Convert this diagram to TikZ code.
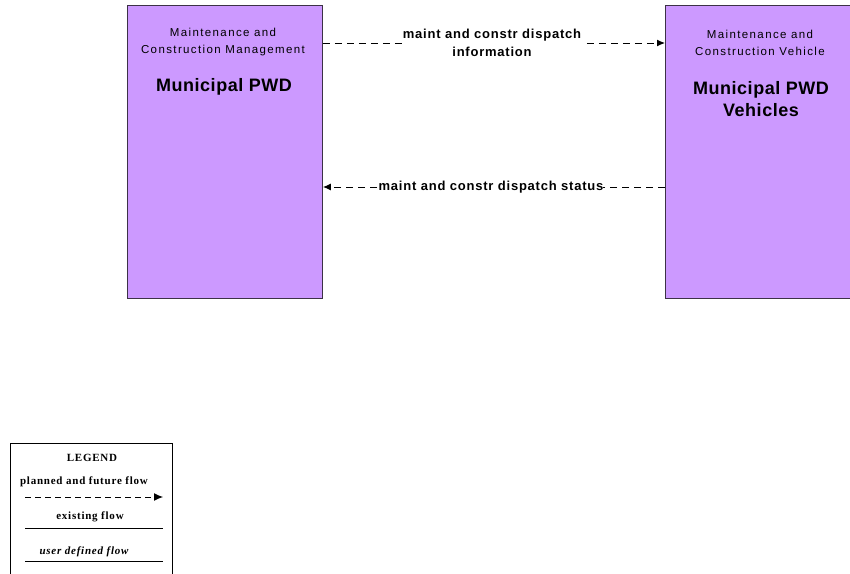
\documentclass[tikz,border=0pt]{standalone}
\usepackage{fontspec}
\setmainfont{Liberation Sans}
\newfontfamily\legfont{Liberation Serif}[LetterSpace=7]
\newfontfamily\smallfont{Liberation Sans}[LetterSpace=12]
\newfontfamily\bigfont{Liberation Sans}[LetterSpace=3]
\newfontfamily\lblfont{Liberation Sans}[LetterSpace=6]
\usetikzlibrary{arrows.meta}
\definecolor{boxfill}{RGB}{204,153,255}
\definecolor{boxline}{RGB}{60,50,70}
\begin{document}
\begin{tikzpicture}[x=1pt,y=-1pt,
  sysbox/.style={draw=boxline,fill=boxfill,line width=0.9pt},
  small/.style={font=\smallfont\fontsize{11.5}{17}\selectfont,align=center,inner sep=0},
  big/.style={font=\bigfont\fontsize{18}{22}\selectfont\bfseries,align=center,inner sep=0},
  flowlbl/.style={font=\lblfont\fontsize{13}{18}\selectfont\bfseries,align=center,fill=white,inner sep=1pt},
  flow/.style={draw,line width=1pt,dash pattern=on 7pt off 5pt,-{Latex[length=8pt,width=7pt]}},
  leg/.style={font=\legfont\fontsize{11}{13}\selectfont\bfseries,inner sep=0}]
\useasboundingbox (0,0) rectangle (850,573);
% boxes
\node[sysbox,minimum width=195pt,minimum height=293pt,anchor=north west,inner sep=0] (mgmt) at (127,5) {};
\node[sysbox,minimum width=187pt,minimum height=293pt,anchor=north west,inner sep=0] (veh) at (665,5) {};
\node[small] (mgmtt) at (223,42.5) {Maintenance and\\Construction Management};
\node[small] (veht) at (760,42.5) {Maintenance and\\Construction Vehicle};
\node[big] (mgmtn) at (224,87) {Municipal PWD};
\node[big] (vehn) at (761,99) {Municipal PWD\\Vehicles};
% flows
\coordinate (a1s) at (mgmt.east |- 0,43);
\coordinate (a1e) at (veh.west |- 0,43);
\coordinate (a2s) at (veh.west |- 0,187);
\coordinate (a2e) at (mgmt.east |- 0,187);
\draw[flow] (a1s) -- (a1e);
\draw[flow] (a2s) -- (a2e);
\node[flowlbl] (l1) at (492,43) {maint and constr dispatch\\information};
\node[flowlbl,inner xsep=0pt] (l2) at (491,187) {maint and constr dispatch status};
% legend
\node[draw,line width=0.9pt,minimum width=162pt,minimum height=140pt,anchor=north west,inner sep=0] (legbox) at (10,443) {};
\node[leg] (legt) at (92,458) {LEGEND};
\node[leg] (leg1) at (84,482) {planned and future flow};
\coordinate (p1a) at (25,497);
\coordinate (p1b) at (163,497);
\draw[line width=1pt,dash pattern=on 6pt off 4pt,-{Latex[length=9pt,width=8pt]}] (p1a) -- (p1b);
\node[leg] (leg2) at (90,517) {existing flow};
\coordinate (p2a) at (25,528);
\coordinate (p2b) at (163,528);
\draw[line width=1pt] (p2a) -- (p2b);
\node[leg,font=\legfont\fontsize{11}{13}\selectfont\bfseries\itshape] (leg3) at (84,552) {user defined flow};
\coordinate (p3a) at (25,561);
\coordinate (p3b) at (163,561);
\draw[line width=1pt] (p3a) -- (p3b);
\end{tikzpicture}
\end{document}
